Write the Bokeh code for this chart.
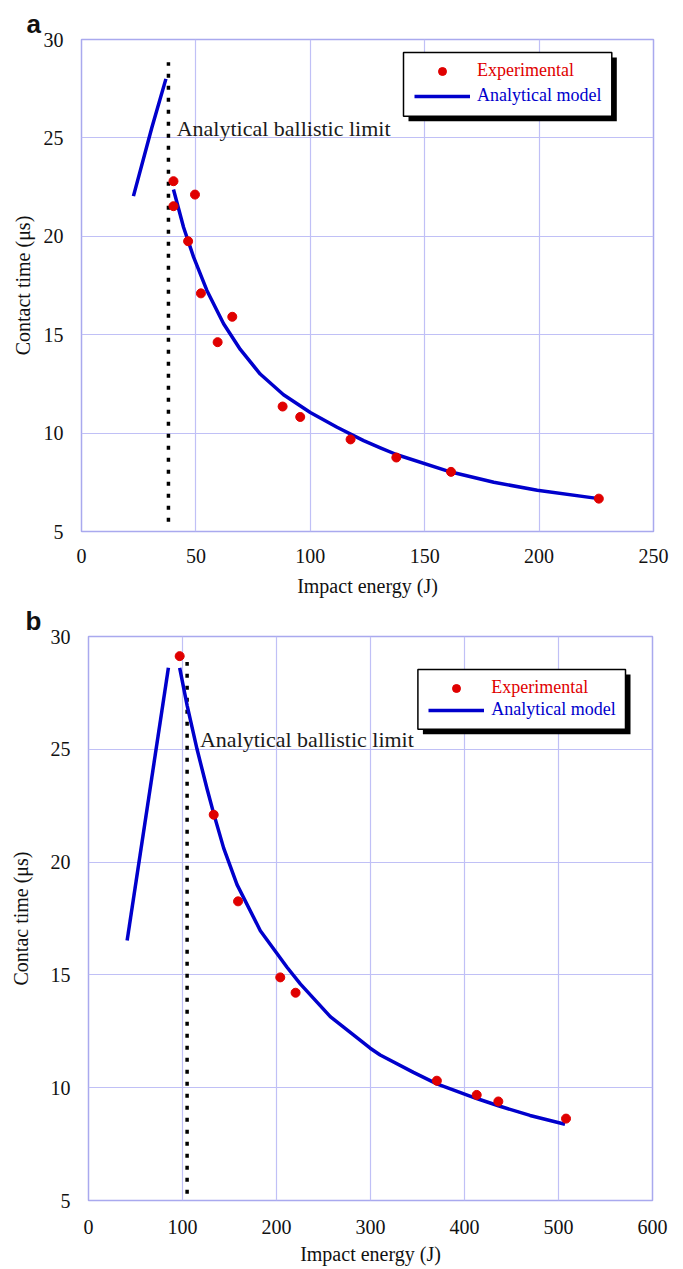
from bokeh.plotting import figure
from bokeh.models import (Legend, LegendItem, BoxAnnotation, Label, FixedTicker,
                          ColumnDataSource, Title)
from bokeh.embed import file_html
from bokeh.resources import INLINE

# ---------------- data: panel a ----------------
a_x_ticks = [0, 50, 100, 150, 200, 250]
a_y_ticks = [5, 10, 15, 20, 25, 30]
a_exp_energy = [40.2, 40.2, 49.6, 46.6, 52.2, 65.9, 59.5, 87.9, 95.6, 117.6, 137.6, 161.5, 226.1]
a_exp_time = [22.80, 21.53, 22.12, 19.75, 17.10, 15.91, 14.62, 11.35, 10.82, 9.68, 8.76, 8.03, 6.67]
a_low_energy = [22.7, 30.7, 36.9]
a_low_time = [22.04, 25.5, 28.0]
a_model_energy = [40.2, 44.6, 49.0, 54.8, 62.1, 69.4, 78.1, 88.3, 100.0, 111.7, 123.3,
                  130.6, 137.9, 161.5, 180.2, 199.2, 226.1]
a_model_time = [22.38, 20.46, 18.94, 17.25, 15.56, 14.25, 13.00, 11.95, 11.05, 10.30, 9.62,
                9.25, 8.90, 8.02, 7.50, 7.10, 6.67]
a_limit_energy = [38.0, 38.0]
a_limit_time = [5.5, 28.84]
a_limit_label = (41.6, 25.5)

# ---------------- data: panel b ----------------
b_x_ticks = [0, 100, 200, 300, 400, 500, 600]
b_y_ticks = [5, 10, 15, 20, 25, 30]
b_exp_energy = [97.0, 133.2, 159.1, 204.0, 220.3, 370.6, 413.0, 436.0, 508.0]
b_exp_time = [29.13, 22.10, 18.26, 14.89, 14.21, 10.31, 9.68, 9.39, 8.63]
b_low_energy = [41.1, 85.0]
b_low_time = [16.52, 28.61]
b_model_energy = [97.0, 104.9, 115.5, 126.1, 133.2, 143.8, 158.0, 182.8, 211.2, 225.3,
                  257.2, 299.7, 310.3, 345.7, 370.6, 413.0, 436.0, 469.7, 506.9]
b_model_time = [28.61, 26.95, 25.00, 23.25, 22.15, 20.62, 19.00, 16.96, 15.34, 14.60,
                13.15, 11.75, 11.45, 10.68, 10.17, 9.52, 9.20, 8.77, 8.38]
b_limit_energy = [104.9, 104.9]
b_limit_time = [5.3, 28.87]
b_limit_label = (118.6, 25.42)

SERIF = "Liberation Serif"
SANS = "Liberation Sans"
GRID = "#c0c0f6"
OUTLINE = "#a9a9ee"
RED = "#e00000"
BLUE = "#0000cc"


def make_panel(letter, letter_offset, width, height, xr, yr, xticks, yticks,
               borders, ylabel, exp_x, exp_y, low_x, low_y, mod_x, mod_y, lim_x, lim_y,
               lim_lab, box, rows, glyph_left, ylab_standoff, xtick_standoff, xlab_standoff):
    left, right, top, bottom = borders
    p = figure(width=width, height=height, x_range=xr, y_range=yr,
               output_backend="svg", toolbar_location=None,
               min_border_left=left, min_border_right=right,
               min_border_top=top, min_border_bottom=bottom)
    p.title = None
    p.add_layout(Title(text=letter, align="left", vertical_align="middle",
                       text_baseline="alphabetic", text_font=SANS,
                       text_font_style="bold", text_font_size="26px",
                       text_color="#111111", offset=letter_offset, standoff=0), "above")

    p.background_fill_color = "white"
    p.border_fill_color = "white"
    p.outline_line_color = OUTLINE
    p.outline_line_width = 1.5

    for ax, ticks in ((p.xaxis, xticks), (p.yaxis, yticks)):
        ax.ticker = FixedTicker(ticks=ticks)
        ax.major_tick_line_color = None
        ax.minor_tick_line_color = None
        ax.major_tick_out = 0
        ax.major_tick_in = 0
        ax.minor_tick_out = 0
        ax.minor_tick_in = 0
        ax.axis_line_color = None
        ax.major_label_text_font = SERIF
        ax.major_label_text_font_size = "20px"
        ax.major_label_text_color = "#111111"
        ax.major_label_text_line_height = 1.0
        ax.axis_label_text_font = SERIF
        ax.axis_label_text_font_size = "20px"
        ax.axis_label_text_font_style = "normal"
        ax.axis_label_text_color = "#111111"
        ax.axis_label_text_line_height = 1.0
    p.xaxis.axis_label = "Impact energy (J)"
    p.yaxis.axis_label = ylabel
    p.xaxis.major_label_standoff = xtick_standoff
    p.yaxis.major_label_standoff = 18
    p.xaxis.axis_label_standoff = xlab_standoff
    p.yaxis.axis_label_standoff = ylab_standoff

    p.xgrid.grid_line_color = GRID
    p.ygrid.grid_line_color = GRID
    p.xgrid.grid_line_width = 1.2
    p.ygrid.grid_line_width = 1.2
    p.xgrid.ticker = FixedTicker(ticks=xticks)
    p.ygrid.ticker = FixedTicker(ticks=yticks)

    # ballistic limit (dotted)
    p.line(lim_x, lim_y, line_color="black", line_width=3.5, line_dash="4 8")
    p.add_layout(Label(x=lim_lab[0], y=lim_lab[1], text="Analytical ballistic limit",
                       text_font=SERIF, text_font_size="22px", text_color="#1a1a1a",
                       text_baseline="middle"))

    # analytical model
    p.line(low_x, low_y, line_color=BLUE, line_width=3.5, line_join="round")
    r_mod = p.line(mod_x, mod_y, line_color=BLUE, line_width=3.5, line_join="round")
    # experiments
    src = ColumnDataSource(dict(x=exp_x, y=exp_y))
    r_exp = p.scatter("x", "y", source=src, size=9, fill_color=RED, line_color=RED)

    # legend box with shadow
    bl, br, bt, bb = box
    p.add_layout(BoxAnnotation(left=bl + 5, right=br + 5, top=bt - 5, bottom=bb - 5,
                               left_units="screen", right_units="screen",
                               top_units="screen", bottom_units="screen",
                               fill_color="black", fill_alpha=1.0, line_color=None))
    p.add_layout(BoxAnnotation(left=bl, right=br, top=bt, bottom=bb,
                               left_units="screen", right_units="screen",
                               top_units="screen", bottom_units="screen",
                               fill_color="white", fill_alpha=1.0,
                               line_color="black", line_width=1.5, line_alpha=1.0))
    for (lab, rend, col), ry in zip((("Experimental", r_exp, RED),
                                     ("Analytical model", r_mod, BLUE)), rows):
        lg = Legend(items=[LegendItem(label=lab, renderers=[rend])],
                    location=(glyph_left, ry), padding=0, margin=0, spacing=0,
                    glyph_width=56, glyph_height=20, label_height=20,
                    label_standoff=7, border_line_color=None,
                    background_fill_alpha=0, label_text_font=SERIF,
                    label_text_font_size="18px", label_text_color=col)
        p.add_layout(lg, "center")
    return p


pa = make_panel("a", -55, 683, 600, (0, 250), (5, 30), a_x_ticks, a_y_ticks,
                (81, 30, 39, 69), "Contact time (\u03bcs)",
                a_exp_energy, a_exp_time, a_low_energy, a_low_time,
                a_model_energy, a_model_time, a_limit_energy, a_limit_time,
                a_limit_label,
                box=(322, 530.3, 479, 415.3), rows=(449.6, 424.6), glyph_left=333,
                ylab_standoff=7, xtick_standoff=17, xlab_standoff=9)

pb = make_panel("b", -63, 683, 669, (0, 600), (5, 30), b_x_ticks, b_y_ticks,
                (88, 31, 36, 69), "Contac time (\u03bcs)",
                b_exp_energy, b_exp_time, b_low_energy, b_low_time,
                b_model_energy, b_model_time, b_limit_energy, b_limit_time,
                b_limit_label,
                box=(329.4, 537, 531.1, 471.2), rows=(501.8, 479.6), glyph_left=340.3,
                ylab_standoff=16, xtick_standoff=19, xlab_standoff=6)

open("out.html", "w").write(file_html([pa, pb], INLINE))
